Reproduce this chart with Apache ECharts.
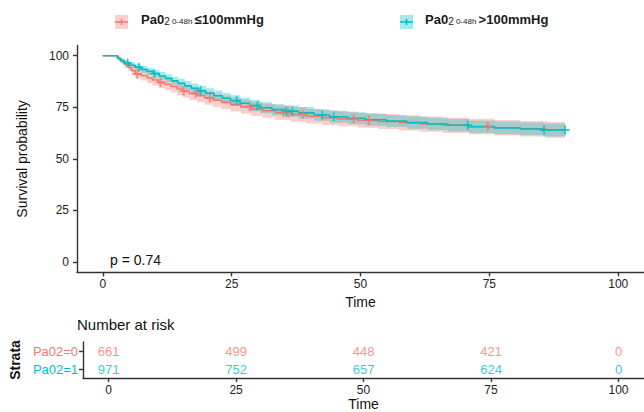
<!DOCTYPE html>
<html><head><meta charset="utf-8">
<script src="https://cdn.jsdelivr.net/npm/echarts@6/dist/echarts.min.js"></script>
<style>html,body{margin:0;padding:0;background:#fff}#c{width:644px;height:412px}</style>
</head><body><div id="c"></div>
<script>
const timeTicks=[0,25,50,75,100];
const survTicks=[0,25,50,75,100];
const strata=['Pa02=1','Pa02=0'];
const riskTimes=[0,25,50,75,100];
const riskPa0=[661,499,448,421,0];
const riskPa1=[971,752,657,624,0];

const tRed=[0,3.0,3.6,4.2,5.0,5.6,6.3,7.5,8.6,9.6,10.8,12.0,13.2,14.4,15.5,16.8,18.3,19.8,21.4,23.0,24.8,26.8,28.8,31.0,33.5,36.5,39.5,42.5,45.5,49.5,53.5,57.5,61.5,66.0,71.0,76.0,81.0,86.0,89.7];
const sRed=[100,98.5,97.2,95.8,94.2,92.8,91.2,90.4,89.3,88.2,87.1,86.2,85.1,83.9,82.8,81.7,80.6,79.5,78.4,77.4,76.3,75.3,74.2,73.3,72.4,71.5,70.7,70.0,69.4,68.7,68.1,67.5,66.9,66.3,65.7,65.1,64.6,64.1,64.1];
const loRed=[100,97.5,95.9,94.2,92.3,90.7,88.9,88.0,86.8,85.6,84.4,83.4,82.2,80.9,79.8,78.6,77.5,76.3,75.2,74.1,73.0,71.9,70.8,69.9,68.9,68.0,67.2,66.4,65.8,65.1,64.5,63.8,63.2,62.6,62.0,61.3,60.8,60.3,60.3];
const hiRed=[100,99.5,98.5,97.4,96.1,94.9,93.5,92.8,91.8,90.8,89.8,89.0,88.0,86.9,85.8,84.8,83.7,82.7,81.6,80.7,79.6,78.7,77.6,76.7,75.9,75.0,74.2,73.6,73.0,72.3,71.7,71.2,70.6,70.0,69.4,68.9,68.4,67.9,67.9];
const cenRedT=[6.7,11.2,15.7,18,20.8,28.5,35,36,38.8,48.7,51.6,74.7];
const cenRedS=[91.2,87.1,82.8,81.7,79.5,75.3,72.4,72.4,71.5,69.4,68.7,65.7];

const tTeal=[0,2.8,3.4,4.2,5.2,6.3,7.4,8.6,9.8,11.0,12.2,13.4,14.6,15.9,17.2,18.6,20.0,21.6,23.2,24.8,26.6,28.5,30.5,32.8,35.2,38.0,41.0,44.0,47.5,51.0,55.0,59.0,63.0,67.0,71.0,76.0,81.0,85.5,89.7];
const sTeal=[100,98.8,97.6,96.5,95.4,94.4,93.4,92.4,91.3,90.2,89.0,87.8,86.6,85.4,84.2,83.0,81.8,80.6,79.4,78.2,77.0,75.8,74.8,73.9,73.1,72.3,71.3,70.4,69.7,69.0,68.3,67.6,66.9,66.3,65.6,65.0,64.5,64.0,64.0];
const loTeal=[100,98.1,96.6,95.3,94.0,92.9,91.8,90.7,89.5,88.3,87.0,85.7,84.4,83.1,81.9,80.6,79.4,78.1,76.9,75.6,74.4,73.1,72.1,71.2,70.3,69.5,68.5,67.5,66.8,66.1,65.4,64.6,63.9,63.3,62.6,61.9,61.4,60.9,60.9];
const hiTeal=[100,99.5,98.6,97.7,96.8,95.9,95.0,94.1,93.1,92.1,91.0,89.9,88.8,87.7,86.5,85.4,84.2,83.1,81.9,80.8,79.6,78.5,77.5,76.6,75.9,75.1,74.1,73.3,72.6,71.9,71.2,70.6,69.9,69.3,68.6,68.1,67.6,67.1,67.1];
const cenTealT=[4.8,7,10,19,26,30,35.6,36.8,42.6,44.8,70.8,85.6,89.7];
const cenTealS=[96.5,94.4,91.3,83.0,78.2,75.8,73.1,73.1,71.3,70.4,66.3,64.0,64.0];

const RED='#F8766D', TEAL='#00BFC4';
const FONT='"Liberation Sans", Arial, sans-serif';
const zip=(a,b)=>a.map((v,i)=>[v,b[i]]);
const plus='path://M4,0h2v4h4v2h-4v4h-2v-4h-4v-2h4z';

function stepPts(t,v){const p=[];for(let i=0;i<t.length;i++){if(i>0)p.push([t[i],v[i-1]]);p.push([t[i],v[i]]);}return p;}
function bandSeries(t,lo,hi,color){
  return {type:'custom',xAxisIndex:0,yAxisIndex:0,clip:true,silent:true,z:1,
    data:[[t[0],hi[0]]],encode:{x:0,y:1},
    renderItem:function(params,api){
      const up=stepPts(t,hi).map(p=>api.coord(p));
      const dn=stepPts(t,lo).map(p=>api.coord(p)).reverse();
      return {type:'polygon',shape:{points:up.concat(dn)},style:{fill:color,opacity:0.35}};
    }};
}

const chart=echarts.init(document.getElementById('c'),null,{renderer:'svg'});
const axisLineStyle={color:'#333',width:1.4};
function xAx(gi){return {type:'value',gridIndex:gi,min:-5,max:105,
  axisLine:{show:true,onZero:false,lineStyle:axisLineStyle},
  axisTick:{show:true,length:4,customValues:timeTicks,lineStyle:axisLineStyle},
  axisLabel:{customValues:timeTicks,color:'#222',fontSize:12,fontFamily:FONT,margin:6},
  splitLine:{show:false},name:'Time',nameLocation:'middle',nameGap:19,
  nameTextStyle:{color:'#111',fontSize:14,fontFamily:FONT}};}
const option={
  animation:false,
  grid:[{left:77,top:45.4,width:570,height:227},{left:77,top:342,width:570,height:36}],
  xAxis:[xAx(0),xAx(1)],
  yAxis:[{type:'value',gridIndex:0,min:-5,max:105,
    axisLine:{show:true,onZero:false,lineStyle:axisLineStyle},
    axisTick:{show:true,length:4,customValues:survTicks,lineStyle:axisLineStyle},
    axisLabel:{customValues:survTicks,color:'#222',fontSize:12,fontFamily:FONT,margin:8},
    splitLine:{show:false},name:'Survival probability',nameLocation:'middle',nameGap:48,
    nameTextStyle:{color:'#111',fontSize:14,fontFamily:FONT}},
   {type:'category',gridIndex:1,data:strata,
    axisLine:{show:true,onZero:false,lineStyle:axisLineStyle},
    axisTick:{show:true,length:4,alignWithLabel:true,lineStyle:axisLineStyle},
    axisLabel:{fontSize:13,fontFamily:FONT,margin:5,color:function(v){return v==='Pa02=0'?RED:TEAL;}},
    name:'Strata',nameLocation:'middle',nameGap:55,
    nameTextStyle:{color:'#111',fontSize:14,fontWeight:'bold',fontFamily:FONT}}],
  series:[
    bandSeries(tRed,loRed,hiRed,RED),
    bandSeries(tTeal,loTeal,hiTeal,TEAL),
    {type:'line',step:'end',data:zip(tRed,sRed),symbol:'none',lineStyle:{color:RED,width:1.6},z:3},
    {type:'line',step:'end',data:zip(tTeal,sTeal),symbol:'none',lineStyle:{color:TEAL,width:1.6},z:4},
    {type:'scatter',data:zip(cenRedT,cenRedS),symbol:plus,symbolSize:9,itemStyle:{color:RED},z:5},
    {type:'scatter',data:zip(cenTealT,cenTealS),symbol:plus,symbolSize:9,itemStyle:{color:TEAL},z:6},
    {type:'scatter',xAxisIndex:1,yAxisIndex:1,symbolSize:0,data:riskTimes.map((t,i)=>[t,'Pa02=0',riskPa0[i]]),
      label:{show:true,position:'inside',formatter:p=>String(p.data[2]),color:RED,fontSize:13,fontFamily:FONT}},
    {type:'scatter',xAxisIndex:1,yAxisIndex:1,symbolSize:0,data:riskTimes.map((t,i)=>[t,'Pa02=1',riskPa1[i]]),
      label:{show:true,position:'inside',formatter:p=>String(p.data[2]),color:TEAL,fontSize:13,fontFamily:FONT}}
  ],
  graphic:[
    {type:'rect',shape:{x:115,y:15,width:13,height:14},style:{fill:RED,opacity:0.35}},
    {type:'line',shape:{x1:115,y1:22,x2:128,y2:22},style:{stroke:RED,lineWidth:1.5}},
    {type:'line',shape:{x1:121.5,y1:19,x2:121.5,y2:25},style:{stroke:RED,lineWidth:1.5}},
    {type:'text',left:141,top:13,style:{text:'{a|Pa0}{b|2}{c| 0-48h }{a|≤100mmHg}',
      rich:{a:{fontSize:13,fontFamily:FONT,fill:'#1a1a1a',fontWeight:'bold'},b:{fontSize:10,fontFamily:FONT,fill:'#1a1a1a',padding:[4,0,0,0]},c:{fontSize:8,fontFamily:FONT,fill:'#1a1a1a',padding:[4,0,0,0]}}}},
    {type:'rect',shape:{x:400,y:15,width:13,height:14},style:{fill:TEAL,opacity:0.35}},
    {type:'line',shape:{x1:400,y1:22,x2:413,y2:22},style:{stroke:TEAL,lineWidth:1.5}},
    {type:'line',shape:{x1:406.5,y1:19,x2:406.5,y2:25},style:{stroke:TEAL,lineWidth:1.5}},
    {type:'text',left:425,top:13,style:{text:'{a|Pa0}{b|2}{c| 0-48h }{a|>100mmHg}',
      rich:{a:{fontSize:13,fontFamily:FONT,fill:'#1a1a1a',fontWeight:'bold'},b:{fontSize:10,fontFamily:FONT,fill:'#1a1a1a',padding:[4,0,0,0]},c:{fontSize:8,fontFamily:FONT,fill:'#1a1a1a',padding:[4,0,0,0]}}}},
    {type:'text',left:110,top:253,style:{text:'p = 0.74',fontSize:14,fontFamily:FONT,fill:'#111'}},
    {type:'text',left:77,top:317,style:{text:'Number at risk',fontSize:15,fontFamily:FONT,fill:'#111'}}
  ]
};
chart.setOption(option);
</script></body></html>
